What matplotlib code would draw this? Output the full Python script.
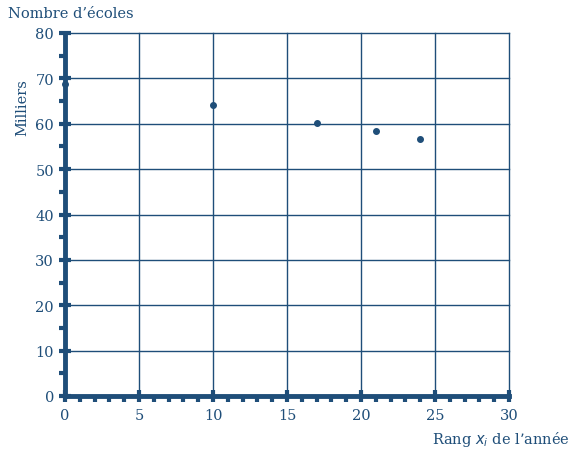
import matplotlib
matplotlib.use("Agg")
import matplotlib.pyplot as plt
from matplotlib.ticker import MultipleLocator

rang = [0, 10, 17, 21, 24]
ecoles = [68.8, 64.1, 60.2, 58.4, 56.6]

C = "#1f4e79"
plt.rcParams['font.family'] = ['DejaVu Serif']

fig = plt.figure(figsize=(5.76, 4.56), dpi=100)
ax = fig.add_axes([65/576, 1-397/456, (509-65)/576, (397-34)/456])
ax.set_xlim(0, 30)
ax.set_ylim(0, 80)
ax.xaxis.set_major_locator(MultipleLocator(5))
ax.xaxis.set_minor_locator(MultipleLocator(1))
ax.yaxis.set_major_locator(MultipleLocator(10))
ax.yaxis.set_minor_locator(MultipleLocator(5))
ax.grid(True, which='major', color=C, lw=1.0)
ax.set_axisbelow(True)
for s in ['top', 'right']:
    ax.spines[s].set_visible(False)
for s in ['left', 'bottom']:
    ax.spines[s].set_color(C)
    ax.spines[s].set_linewidth(3.5)
    ax.spines[s].set_zorder(1)
ax.tick_params(which='major', direction='inout', length=9, width=3, color=C,
               labelcolor=C, labelsize=10.5)
ax.tick_params(which='minor', direction='out', length=4, width=3, color=C)
ax.tick_params(axis='x', which='major', pad=4)
ax.scatter(rang, ecoles, s=16, color=C, zorder=5, clip_on=False)

fig.canvas.draw()
for ln in ax.get_xgridlines() + ax.get_ygridlines():
    ln.set_clip_on(False)

fig.text(8/576, 1-14/456, "Nombre d’écoles", color=C, fontsize=10.5, va='center', ha='left')
fig.text(22/576, 1-108/456, "Milliers", color=C, fontsize=10.5, rotation=90, va='center', ha='center')
fig.text(570/576, 1-440/456, "Rang $x_i$ de l’année", color=C, fontsize=10.5, va='center', ha='right')

fig.savefig("out.png", dpi=100)
